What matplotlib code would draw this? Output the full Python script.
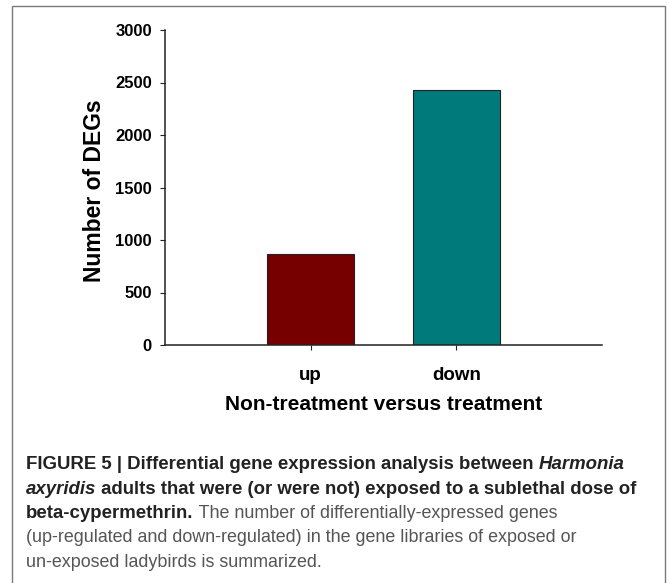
import matplotlib
matplotlib.use("Agg")
import matplotlib.pyplot as plt
from matplotlib.patches import Rectangle

categories = ["up", "down"]
deg_counts = [867, 2425]
bar_colors = ["#760000", "#007a7a"]
y_ticks = [0, 500, 1000, 1500, 2000, 2500, 3000]

caption_lines = [
    [("FIGURE 5 | Differential gene expression analysis between ", "bold", "normal"),
     ("Harmonia", "bold", "italic")],
    [("axyridis", "bold", "italic"),
     (" adults that were (or were not) exposed to a sublethal dose of", "bold", "normal")],
    [("beta-cypermethrin.", "bold", "normal"),
     (" The number of differentially-expressed genes", "normal", "normal")],
    [("(up-regulated and down-regulated) in the gene libraries of exposed or", "normal", "normal")],
    [("un-exposed ladybirds is summarized.", "normal", "normal")],
]

plt.rcParams["font.family"] = ["Liberation Sans", "DejaVu Sans"]

W, H = 667, 583
fig = plt.figure(figsize=(W / 100, H / 100), dpi=100)

# outer frame, open at the bottom
fig.patches.append(Rectangle((12 / W, -0.05), (665 - 12) / W, (H - 6) / H + 0.05,
                             transform=fig.transFigure, fill=False,
                             edgecolor="#7a7a7a", linewidth=1.0))

ax = fig.add_axes([165 / W, (H - 345) / H, (602 - 165) / W, 315 / H])
x = list(range(len(categories)))
ax.bar(x, deg_counts, width=0.6, color=bar_colors, edgecolor="#222222", linewidth=0.8)

ax.set_xlim(-1, 2)
ax.set_ylim(0, 3000)
ax.set_xticks(x)
ax.set_xticklabels(categories, fontsize=13.5, fontweight="bold")
ax.set_yticks(y_ticks)
ax.set_yticklabels([str(t) for t in y_ticks], fontsize=12, fontweight="bold")
ax.tick_params(axis="both", direction="out", length=3.5, width=0.8, color="#222222")
ax.tick_params(axis="x", pad=12)
ax.tick_params(axis="y", pad=6)

for side in ["top", "right"]:
    ax.spines[side].set_visible(False)
for side in ["left", "bottom"]:
    ax.spines[side].set_linewidth(1.1)
    ax.spines[side].set_color("#222222")

ax.set_xlabel("Non-treatment versus treatment", fontsize=15, fontweight="bold")
ax.xaxis.set_label_coords(0.5, -0.16)
ax.set_ylabel("Number of DEGs", fontsize=16.5, fontweight="bold")
ax.yaxis.set_label_coords(-0.135, 0.49)

# caption, pieces placed one after the other
renderer = fig.canvas.get_renderer()
baselines = [469, 493.5, 518, 542.5, 567]
for line, base in zip(caption_lines, baselines):
    xpos = 26
    for text, weight, style in line:
        color = "#222222" if weight == "bold" else "#555555"
        size = 13.4 if weight == "bold" else 12.9
        t = fig.text(xpos / W, 1 - base / H, text, fontsize=size, fontweight=weight,
                     fontstyle=style, color=color, ha="left", va="baseline")
        bb = t.get_window_extent(renderer=renderer)
        xpos += bb.width

fig.savefig("out.png", dpi=100)
